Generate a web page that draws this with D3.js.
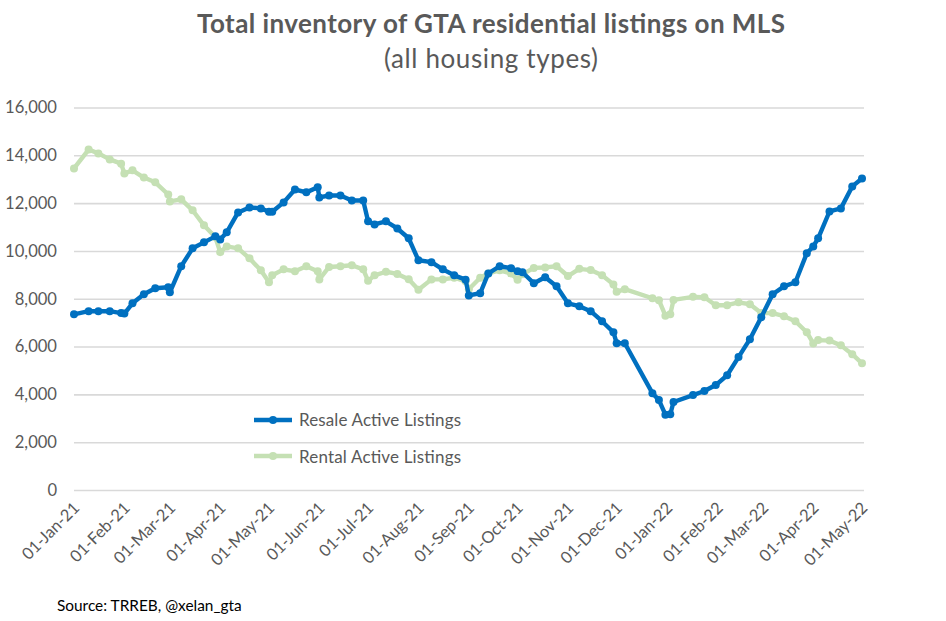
<!DOCTYPE html>
<html><head><meta charset="utf-8">
<script src="https://cdn.jsdelivr.net/npm/d3@7/dist/d3.min.js"></script>
<style>html,body{margin:0;padding:0;background:#fff}svg{display:block}text{font-family:Lato,"Noto Sans",sans-serif}</style>
</head><body><div id="c"></div>
<script>
const dates = ["2021-01-01","2021-01-10","2021-01-16","2021-01-23","2021-01-30","2021-02-01","2021-02-06","2021-02-13","2021-02-20","2021-02-28","2021-03-01","2021-03-08","2021-03-15","2021-03-22","2021-03-29","2021-04-01","2021-04-05","2021-04-12","2021-04-19","2021-04-26","2021-05-01","2021-05-03","2021-05-10","2021-05-17","2021-05-24","2021-05-31","2021-06-01","2021-06-07","2021-06-14","2021-06-21","2021-06-28","2021-07-01","2021-07-05","2021-07-12","2021-07-19","2021-07-26","2021-08-01","2021-08-09","2021-08-16","2021-08-23","2021-08-30","2021-09-01","2021-09-08","2021-09-13","2021-09-20","2021-09-27","2021-10-01","2021-10-04","2021-10-11","2021-10-18","2021-10-25","2021-11-01","2021-11-08","2021-11-15","2021-11-22","2021-11-29","2021-12-01","2021-12-06","2021-12-23","2021-12-27","2021-12-31","2022-01-03","2022-01-05","2022-01-17","2022-01-24","2022-01-31","2022-02-07","2022-02-14","2022-02-21","2022-02-28","2022-03-07","2022-03-14","2022-03-21","2022-03-28","2022-04-01","2022-04-04","2022-04-11","2022-04-18","2022-04-25","2022-05-01"];
const resale = [7350,7480,7480,7480,7400,7380,7810,8190,8440,8480,8270,9360,10110,10360,10610,10480,10780,11610,11820,11780,11640,11640,12030,12570,12450,12660,12240,12320,12320,12110,12110,11240,11110,11240,10940,10530,9610,9530,9230,8980,8800,8140,8230,9060,9360,9280,9150,9110,8650,8900,8520,7810,7690,7480,7060,6600,6140,6140,4050,3760,3150,3170,3680,3970,4140,4390,4800,5560,6310,7230,8190,8520,8690,9900,10190,10530,11650,11780,12700,13030];
const rental = [13450,14240,14080,13830,13650,13240,13370,13070,12870,12360,12070,12160,11700,11070,10570,9950,10190,10110,9690,9190,8690,8980,9230,9150,9360,9150,8810,9330,9360,9400,9230,8750,8980,9130,9040,8820,8380,8810,8810,8880,8730,8400,8880,9060,9190,9060,8800,9020,9290,9310,9360,8950,9250,9200,8980,8600,8290,8400,8020,7940,7290,7350,7950,8080,8060,7730,7730,7850,7770,7400,7400,7270,7060,6600,6130,6270,6250,6050,5680,5300];
const yTicks = [0,2000,4000,6000,8000,10000,12000,14000,16000];
const tickDates = ["2021-01-01","2021-02-01","2021-03-01","2021-04-01","2021-05-01","2021-06-01","2021-07-01","2021-08-01","2021-09-01","2021-10-01","2021-11-01","2021-12-01","2022-01-01","2022-02-01","2022-03-01","2022-04-01","2022-05-01"];
const titleMain = "Total inventory of GTA residential listings on MLS";
const titleSub = "(all housing types)";
const source = "Source: TRREB, @xelan_gta";
const seriesNames = ["Resale Active Listings","Rental Active Listings"];

const W=946,H=621,TXT="#595959",BLUE="#0070C0",GREEN="#C5E0B4";
const svg=d3.select("#c").append("svg").attr("width",W).attr("height",H);
const parse=d3.utcParse("%Y-%m-%d"), fmt=d3.utcFormat("%d-%b-%y");
const x=d3.scaleUtc().domain([parse(dates[0]),parse(dates[dates.length-1])]).range([74,862]);
const y=d3.scaleLinear().domain([0,16000]).range([490,107.5]);

const yAxis=d3.axisLeft(y).tickValues(yTicks).tickSize(0).tickPadding(17).tickFormat(d3.format(","));
const gy=svg.append("g").attr("transform","translate(74,0)").call(yAxis);
gy.select(".domain").remove();
gy.selectAll("text").attr("fill",TXT).style("font-size","16.6px").style("font-family","Lato").attr("dy","0.32em");
gy.selectAll(".tick").append("line").attr("x1",0).attr("x2",790).attr("stroke","#D9D9D9").attr("stroke-width",1.6);
gy.selectAll(".tick text").raise();

const xAxis=d3.axisBottom(x).tickValues(tickDates.map(parse)).tickSize(0).tickFormat(fmt);
const gx=svg.append("g").attr("transform","translate(0,490)").call(xAxis);
gx.select(".domain").remove();
gx.selectAll("text").attr("fill",TXT).style("font-size","16.4px").style("font-family","Lato")
  .attr("text-anchor","end").attr("dy",0).attr("y",0)
  .attr("transform","translate(6,19) rotate(-45)");

function draw(vals,color,w,r){
  const pts=dates.map((d,i)=>[parse(d),vals[i]]);
  const line=d3.line().x(d=>x(d[0])).y(d=>y(d[1]));
  svg.append("path").attr("d",line(pts)).attr("fill","none").attr("stroke",color).attr("stroke-width",w).attr("stroke-linejoin","round");
  svg.append("g").selectAll("circle").data(pts).join("circle").attr("cx",d=>x(d[0])).attr("cy",d=>y(d[1])).attr("r",r).attr("fill",color);
}
draw(rental,GREEN,4.4,4);
draw(resale,BLUE,4.4,4);

svg.append("text").attr("x",491).attr("y",33).attr("text-anchor","middle").attr("fill",TXT).style("font-size","26px").style("font-weight","700").attr("textLength",588).text(titleMain);
svg.append("text").attr("x",491).attr("y",68).attr("text-anchor","middle").attr("fill",TXT).style("font-size","26px").attr("textLength",214).text(titleSub);
svg.append("text").attr("x",57).attr("y",611).attr("fill","#000").style("font-size","15.4px").text(source);

[[420,BLUE,426],[456,GREEN,463]].forEach((l,i)=>{
  svg.append("line").attr("x1",254).attr("x2",292).attr("y1",l[0]).attr("y2",l[0]).attr("stroke",l[1]).attr("stroke-width",4.4);
  svg.append("circle").attr("cx",273).attr("cy",l[0]).attr("r",4).attr("fill",l[1]);
  svg.append("text").attr("x",299).attr("y",l[2]).attr("fill",TXT).style("font-size","17px").attr("textLength",162).text(seriesNames[i]);
});
</script></body></html>
